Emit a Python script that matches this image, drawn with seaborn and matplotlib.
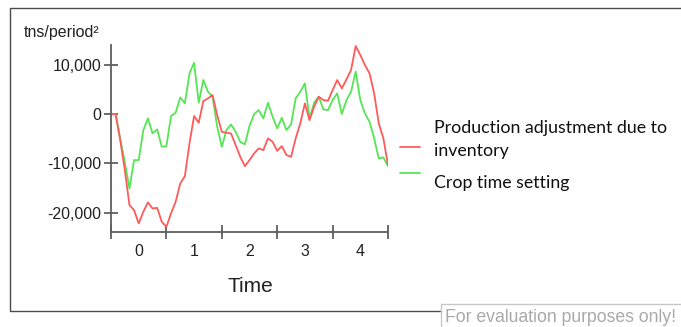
import numpy as np
import pandas as pd
import matplotlib
matplotlib.use("Agg")
import matplotlib.pyplot as plt
from matplotlib.lines import Line2D
from matplotlib.patches import Rectangle
from matplotlib.ticker import FuncFormatter, FixedLocator
import seaborn as sns

# Simulation output, one value every 1/12 time unit
steps = np.arange(61)
time = steps / 12.0 - 0.5

production_adjustment = [
    0, 0, -5300, -11400, -18460, -19470, -22170, -19810, -17900, -19130,
    -19000, -21840, -22850, -20140, -17780, -14060, -12580, -5950, -400, -1760,
    2640, 3180, 3850, -200, -3590, -3790, -3920, -6290, -8660, -10550,
    -9330, -7970, -6960, -7300, -4930, -5620, -7440, -6490, -8320, -8660,
    -4930, -1890, 2160, -1220, 1490, 3520, 2840, 2700, 4870, 6900,
    5210, 7030, 8920, 13790, 11970, 9940, 8250, 4200, -1890, -4930,
    -10340,
]

crop_time_setting = [
    0, 0, -5000, -9800, -15100, -9330, -9330, -3250, -880, -3920,
    -3110, -6630, -6490, -400, 260, 3380, 2160, 8250, 10400, 2300,
    6900, 4530, 3520, -2570, -6630, -3250, -2100, -3590, -5620, -6150,
    -2430, 0, 810, -880, 2300, -540, -2900, -740, -3250, -2100,
    3180, 4530, 6220, -880, 2300, 3520, 950, 810, 2840, 4200,
    0, 2840, 4530, 8580, 2840, 135, -1560, -4930, -8990, -8790,
    -10550,
]

series_names = ["Production adjustment due to\ninventory", "Crop time setting"]
series_colors = ["#ff5a5a", "#55e655"]

x_tick_labels = ["0", "1", "2", "3", "4"]
y_ticks = [-20000, -10000, 0, 10000]

df = pd.DataFrame({
    "Time": np.concatenate([time, time]),
    "value": production_adjustment + crop_time_setting,
    "series": [series_names[0]] * len(time) + [series_names[1]] * len(time),
})

sns.set_style("white")
plt.rcParams["font.family"] = ["Liberation Sans", "DejaVu Sans"]

W, H = 681, 327
fig = plt.figure(figsize=(W / 100, H / 100), dpi=100)
fig.patch.set_facecolor("white")

ax_left, ax_right, ax_top, ax_bottom = 111, 388, 45, 232
ax = fig.add_axes([ax_left / W, 1 - ax_bottom / H,
                   (ax_right - ax_left) / W, (ax_bottom - ax_top) / H])

sns.lineplot(data=df, x="Time", y="value", hue="series",
             palette=dict(zip(series_names, series_colors)),
             hue_order=series_names[::-1], linewidth=1.3,
             legend=False, ax=ax)

ax.set_xlim(-0.5, 4.5)
ax.set_ylim(-23900, 14000)

axis_color = "#5f5f5f"
for side in ["top", "right"]:
    ax.spines[side].set_visible(False)
for side in ["left", "bottom"]:
    ax.spines[side].set_color(axis_color)
    ax.spines[side].set_linewidth(1.3)

# ticks at interval boundaries, labels centred between them
ax.xaxis.set_major_locator(FixedLocator(np.arange(-0.5, 4.6, 1.0)))
ax.xaxis.set_minor_locator(FixedLocator(np.arange(0, 5, 1.0)))
ax.set_xticklabels([])
ax.set_xticklabels(x_tick_labels, minor=True)
ax.tick_params(axis="x", which="major", bottom=True, direction="inout",
               length=10, width=1.3, color=axis_color)
ax.tick_params(axis="x", which="minor", bottom=True, length=0, pad=9,
               labelsize=11.5, labelcolor="#222222")

ax.set_yticks(y_ticks)
ax.yaxis.set_major_formatter(FuncFormatter(lambda v, p: f"{int(v):,}"))
ax.tick_params(axis="y", left=True, direction="inout", length=10, width=1.3,
               color=axis_color, pad=2, labelsize=11.5, labelcolor="#222222")

ax.set_xlabel("")
ax.set_ylabel("")

fig.text(250 / W, 1 - 287 / H, "Time", ha="center", va="center",
         fontsize=15, color="#222222")
fig.text(24 / W, 1 - 33 / H, "tns/period²", ha="left", va="center",
         fontsize=11.5, color="#222222")

# legend drawn beside the plot
leg_font = ["Lato", "DejaVu Sans"]
for (y_line, color) in [(147, series_colors[0]), (173, series_colors[1])]:
    fig.add_artist(Line2D([400 / W, 420 / W], [1 - y_line / H] * 2,
                          color=color, linewidth=1.3,
                          transform=fig.transFigure))
fig.text(434 / W, 1 - 128 / H, "Production adjustment due to", ha="left",
         va="center", fontsize=12.8, family=leg_font, color="#111111")
fig.text(434 / W, 1 - 151 / H, "inventory", ha="left", va="center",
         fontsize=12.8, family=leg_font, color="#111111")
fig.text(434 / W, 1 - 183 / H, "Crop time setting", ha="left", va="center",
         fontsize=12.8, family=leg_font, color="#111111")

# outer frame, open past the right edge
fig.add_artist(Rectangle((10 / W, 1 - 311 / H), (W + 20) / W, (311 - 8) / H,
                         transform=fig.transFigure, fill=False,
                         edgecolor="#4a4a4a", linewidth=1.0))

# evaluation notice box
fig.add_artist(Rectangle((441 / W, -0.05), (W) / W, (327 - 304) / H + 0.05,
                         transform=fig.transFigure, facecolor="white",
                         edgecolor="#c8c8c8", linewidth=1.0))
fig.text(445 / W, 1 - 317 / H, "For evaluation purposes only!", ha="left",
         va="center", fontsize=12.7, color="#a9a9a9")

fig.savefig("out.png", dpi=100, facecolor="white")
